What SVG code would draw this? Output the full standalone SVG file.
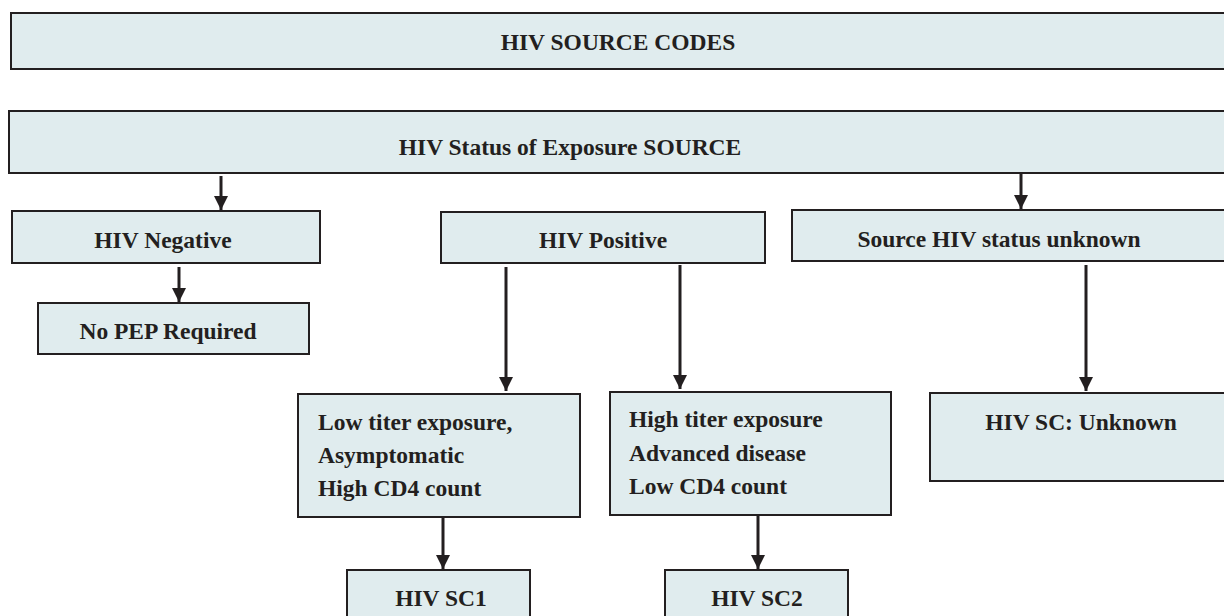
<svg xmlns="http://www.w3.org/2000/svg" width="1224" height="616" viewBox="0 0 1224 616">
  <defs>
    <marker id="arrow" markerUnits="userSpaceOnUse" markerWidth="16" markerHeight="16" refX="14" refY="7" orient="auto">
      <path d="M0,0 L14,7 L0,14 Z" fill="#231f20"/>
    </marker>
    <style>
      .box { fill: #e0ecee; stroke: #231f20; stroke-width: 2; }
      .lbl { font-family: "Liberation Serif", "Times New Roman", serif; font-weight: bold; font-size: 23.5px; fill: #231f20; }
      .mid { text-anchor: middle; }
      .conn { stroke: #231f20; stroke-width: 3; fill: none; marker-end: url(#arrow); }
    </style>
  </defs>
  <rect width="1224" height="616" fill="#ffffff"/>

  <g id="title">
    <rect class="box" x="11" y="13" width="1230" height="56"/>
    <text class="lbl mid" x="618" y="50">HIV SOURCE CODES</text>
  </g>

  <g id="status">
    <rect class="box" x="9" y="111" width="1230" height="62"/>
    <text class="lbl mid" x="570" y="155">HIV Status of Exposure SOURCE</text>
  </g>

  <g id="negative">
    <rect class="box" x="12" y="211" width="308" height="52"/>
    <text class="lbl mid" x="163" y="248">HIV Negative</text>
  </g>

  <g id="no-pep">
    <rect class="box" x="38" y="303" width="271" height="51"/>
    <text class="lbl mid" x="168" y="339">No PEP Required</text>
  </g>

  <g id="positive">
    <rect class="box" x="441" y="212" width="324" height="51"/>
    <text class="lbl mid" x="603" y="248">HIV Positive</text>
  </g>

  <g id="unknown">
    <rect class="box" x="792" y="210" width="450" height="51"/>
    <text class="lbl mid" x="999" y="247">Source HIV status unknown</text>
  </g>

  <g id="low-titer">
    <rect class="box" x="298" y="394" width="282" height="123"/>
    <text class="lbl" x="318" y="430">Low titer exposure,</text>
    <text class="lbl" x="318" y="463">Asymptomatic</text>
    <text class="lbl" x="318" y="496">High CD4 count</text>
  </g>

  <g id="high-titer">
    <rect class="box" x="610" y="392" width="281" height="123"/>
    <text class="lbl" x="629" y="427">High titer exposure</text>
    <text class="lbl" x="629" y="461">Advanced disease</text>
    <text class="lbl" x="629" y="494">Low CD4 count</text>
  </g>

  <g id="sc-unknown">
    <rect class="box" x="930" y="393" width="310" height="88"/>
    <text class="lbl mid" x="1081" y="430">HIV SC: Unknown</text>
  </g>

  <g id="sc1">
    <rect class="box" x="347" y="570" width="183" height="60"/>
    <text class="lbl mid" x="441" y="606">HIV SC1</text>
  </g>

  <g id="sc2">
    <rect class="box" x="665" y="570" width="183" height="60"/>
    <text class="lbl mid" x="757" y="606">HIV SC2</text>
  </g>

  <g id="connectors">
    <line class="conn" x1="221" y1="176" x2="221" y2="210"/>
    <line class="conn" x1="1021" y1="174" x2="1021" y2="209"/>
    <line class="conn" x1="179" y1="267" x2="179" y2="302"/>
    <line class="conn" x1="506" y1="267" x2="506" y2="391"/>
    <line class="conn" x1="680" y1="265" x2="680" y2="389"/>
    <line class="conn" x1="1086" y1="265" x2="1086" y2="391"/>
    <line class="conn" x1="443" y1="518" x2="443" y2="569"/>
    <line class="conn" x1="758" y1="516" x2="758" y2="569"/>
  </g>
</svg>
